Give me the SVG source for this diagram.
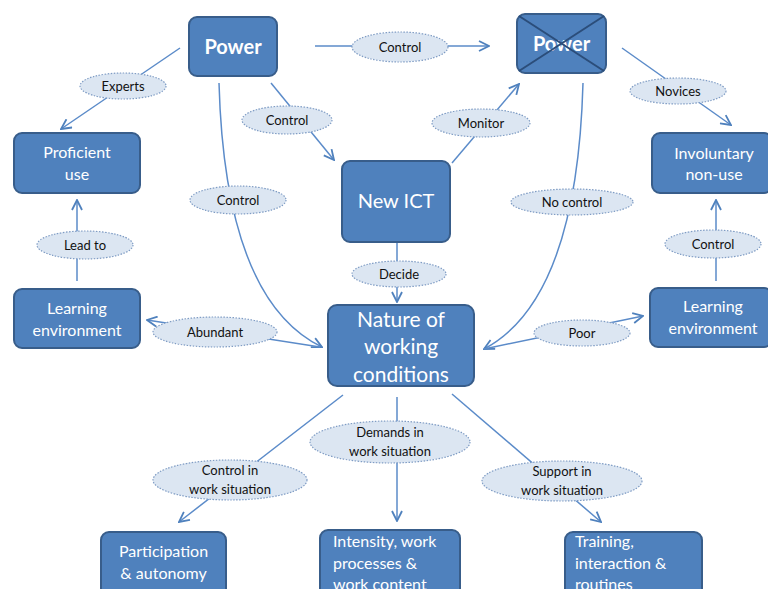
<svg xmlns="http://www.w3.org/2000/svg" width="768" height="589" viewBox="0 0 768 589">
  <defs>
    <marker id="arrow" viewBox="0 0 12 12" refX="11" refY="6" markerWidth="12" markerHeight="12" markerUnits="userSpaceOnUse" orient="auto">
      <path d="M1,1 L11,6 L1,11" fill="none" stroke="#4f81bd" stroke-width="1.8"/>
    </marker>
    <style>
      .box { fill: #4f81bd; stroke: #385d8a; stroke-width: 2; }
      .lbl { fill: #dce6f2; stroke: #7f9cc4; stroke-width: 1.2; stroke-dasharray: 1.5 1.5; }
      .con { fill: none; stroke: #5b8bc9; stroke-width: 1.5; }
      .arr { marker-end: url(#arrow); }
      .nt { fill: #ffffff; font-family: Lato, "Liberation Sans", sans-serif; text-anchor: middle; }
      .lt { fill: #ffffff; font-family: Lato, "Liberation Sans", sans-serif; text-anchor: start; font-size: 16px; }
      .et { fill: #111111; font-family: Lato, "Liberation Sans", sans-serif; text-anchor: middle; font-size: 13px; }
    </style>
  </defs>

  <rect width="768" height="589" fill="#ffffff"/>

  <!-- connectors -->
  <g id="connectors">
    <line class="con arr" x1="315" y1="46" x2="489" y2="46"/>
    <line class="con arr" x1="180" y1="48" x2="61" y2="129"/>
    <line class="con arr" x1="271" y1="83" x2="334" y2="160"/>
    <line class="con arr" x1="452" y1="163" x2="519" y2="84"/>
    <line class="con arr" x1="622" y1="48" x2="731" y2="125"/>
    <path class="con arr" d="M219,83 Q225,300 322,347"/>
    <path class="con arr" d="M583,83 Q577,300 484,349"/>
    <line class="con arr" x1="320" y1="347" x2="147" y2="320"/>
    <line class="con arr" x1="484" y1="349" x2="643" y2="316"/>
    <line class="con arr" x1="77" y1="281" x2="77" y2="200"/>
    <line class="con arr" x1="716" y1="281" x2="716" y2="200"/>
    <line class="con arr" x1="397" y1="243" x2="397" y2="302"/>
    <line class="con arr" x1="343" y1="395" x2="179" y2="522"/>
    <line class="con arr" x1="397" y1="397" x2="397" y2="521"/>
    <line class="con arr" x1="452" y1="394" x2="601" y2="522"/>
  </g>

  <!-- edge labels -->
  <g id="labels">
    <ellipse class="lbl" cx="400" cy="47" rx="48" ry="15"/>
    <text class="et" x="400" y="51.5">Control</text>
    <ellipse class="lbl" cx="123" cy="86" rx="43" ry="13"/>
    <text class="et" x="123" y="90.5">Experts</text>
    <ellipse class="lbl" cx="678" cy="91" rx="48" ry="13"/>
    <text class="et" x="678" y="95.5">Novices</text>
    <ellipse class="lbl" cx="287" cy="120" rx="45" ry="14"/>
    <text class="et" x="287" y="124.5">Control</text>
    <ellipse class="lbl" cx="481" cy="123" rx="49" ry="14"/>
    <text class="et" x="481" y="127.5">Monitor</text>
    <ellipse class="lbl" cx="238" cy="200" rx="48" ry="14"/>
    <text class="et" x="238" y="204.5">Control</text>
    <ellipse class="lbl" cx="572" cy="202" rx="61" ry="13"/>
    <text class="et" x="572" y="206.5">No control</text>
    <ellipse class="lbl" cx="85" cy="245" rx="48" ry="14"/>
    <text class="et" x="85" y="249.5">Lead to</text>
    <ellipse class="lbl" cx="713" cy="244" rx="48" ry="14"/>
    <text class="et" x="713" y="248.5">Control</text>
    <ellipse class="lbl" cx="399" cy="274" rx="47" ry="13"/>
    <text class="et" x="399" y="278.5">Decide</text>
    <ellipse class="lbl" cx="215" cy="332" rx="62" ry="15"/>
    <text class="et" x="215" y="336.5">Abundant</text>
    <ellipse class="lbl" cx="582" cy="333" rx="48" ry="13"/>
    <text class="et" x="582" y="337.5">Poor</text>
    <ellipse class="lbl" cx="390" cy="442" rx="80" ry="21"/>
    <text class="et" x="390" y="437">Demands in</text>
    <text class="et" x="390" y="456">work situation</text>
    <ellipse class="lbl" cx="230" cy="480" rx="77" ry="20"/>
    <text class="et" x="230" y="475">Control  in</text>
    <text class="et" x="230" y="494">work situation</text>
    <ellipse class="lbl" cx="562" cy="481" rx="80" ry="20"/>
    <text class="et" x="562" y="476">Support in</text>
    <text class="et" x="562" y="495">work situation</text>
  </g>

  <!-- nodes -->
  <g id="power">
    <rect class="box" x="189" y="17" width="88" height="59" rx="8"/>
    <text class="nt" x="233" y="54" font-size="20" font-weight="bold">Power</text>
  </g>
  <g id="power-crossed">
    <rect class="box" x="517" y="14" width="89" height="59" rx="8"/>
    <text class="nt" x="561.5" y="51" font-size="20" font-weight="bold">Power</text>
    <line x1="519" y1="16" x2="604" y2="71" stroke="#2b4d7a" stroke-width="2"/>
    <line x1="604" y1="16" x2="519" y2="71" stroke="#2b4d7a" stroke-width="2"/>
  </g>
  <g id="proficient-use">
    <rect class="box" x="14" y="133" width="126" height="60" rx="8"/>
    <text class="nt" x="77" y="158" font-size="16">Proficient</text>
    <text class="nt" x="77" y="180" font-size="16">use</text>
  </g>
  <g id="involuntary-non-use">
    <rect class="box" x="652" y="133" width="120" height="60" rx="8"/>
    <text class="nt" x="714" y="159" font-size="16">Involuntary</text>
    <text class="nt" x="714" y="180" font-size="16">non-use</text>
  </g>
  <g id="new-ict">
    <rect class="box" x="342" y="161" width="108" height="81" rx="8"/>
    <text class="nt" x="396" y="208" font-size="20">New ICT</text>
  </g>
  <g id="learning-env-left">
    <rect class="box" x="14" y="289" width="126" height="59" rx="8"/>
    <text class="nt" x="77" y="314" font-size="16">Learning</text>
    <text class="nt" x="77" y="336" font-size="16">environment</text>
  </g>
  <g id="learning-env-right">
    <rect class="box" x="650" y="288" width="122" height="59" rx="8"/>
    <text class="nt" x="713" y="312" font-size="16">Learning</text>
    <text class="nt" x="713" y="334" font-size="16">environment</text>
  </g>
  <g id="nature">
    <rect class="box" x="328" y="305" width="146" height="81" rx="9"/>
    <text class="nt" x="401" y="327" font-size="21">Nature of</text>
    <text class="nt" x="401" y="354" font-size="21">working</text>
    <text class="nt" x="401" y="382" font-size="21">conditions</text>
  </g>
  <g id="participation">
    <rect class="box" x="101" y="532" width="125" height="66" rx="8"/>
    <text class="nt" x="163.5" y="557" font-size="16">Participation</text>
    <text class="nt" x="163.5" y="579" font-size="16">&amp; autonomy</text>
  </g>
  <g id="intensity">
    <rect class="box" x="320" y="530" width="140" height="68" rx="8"/>
    <text class="lt" x="333" y="547">Intensity, work</text>
    <text class="lt" x="333" y="569">processes &amp;</text>
    <text class="lt" x="333" y="590">work content</text>
  </g>
  <g id="training">
    <rect class="box" x="565" y="532" width="137" height="66" rx="8"/>
    <text class="lt" x="575" y="547">Training,</text>
    <text class="lt" x="575" y="569">interaction &amp;</text>
    <text class="lt" x="575" y="590">routines</text>
  </g>
</svg>
